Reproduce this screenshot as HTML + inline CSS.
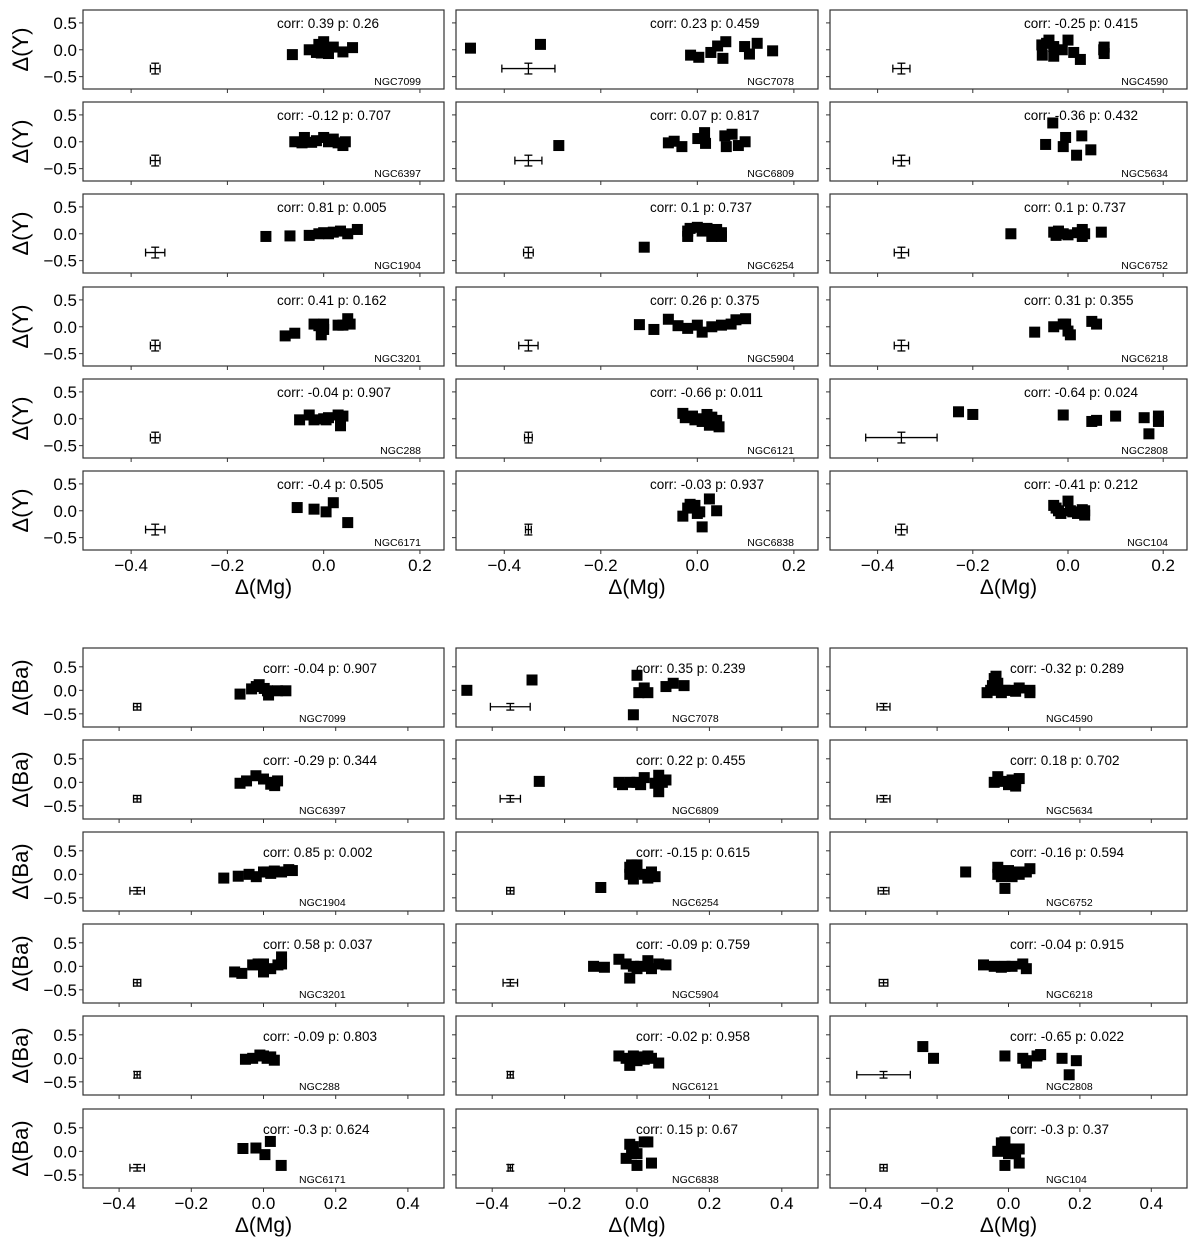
<!DOCTYPE html>
<html><head><meta charset="utf-8">
<style>
html,body{margin:0;padding:0;background:#fff;}
svg{display:block;font-family:"Liberation Sans","DejaVu Sans",sans-serif;}
</style></head>
<body>
<svg id="fig" width="1200" height="1249" viewBox="0 0 1200 1249" xmlns="http://www.w3.org/2000/svg"></svg>
<script>
// ---------- data ----------
const topNames = ["NGC7099","NGC6397","NGC1904","NGC3201","NGC288","NGC6171",
 "NGC7078","NGC6809","NGC6254","NGC5904","NGC6121","NGC6838",
 "NGC4590","NGC5634","NGC6752","NGC6218","NGC2808","NGC104"];
const topStats = ["corr: 0.39 p: 0.26","corr: -0.12 p: 0.707","corr: 0.81 p: 0.005","corr: 0.41 p: 0.162","corr: -0.04 p: 0.907","corr: -0.4 p: 0.505",
 "corr: 0.23 p: 0.459","corr: 0.07 p: 0.817","corr: 0.1 p: 0.737","corr: 0.26 p: 0.375","corr: -0.66 p: 0.011","corr: -0.03 p: 0.937",
 "corr: -0.25 p: 0.415","corr: -0.36 p: 0.432","corr: 0.1 p: 0.737","corr: 0.31 p: 0.355","corr: -0.64 p: 0.024","corr: -0.41 p: 0.212"];
const topXerr = [0.01,0.01,0.02,0.01,0.01,0.02, 0.055,0.028,0.01,0.02,0.008,0.006, 0.018,0.017,0.015,0.015,0.075,0.012];
const topMg = [
 [-0.065,-0.03,-0.015,-0.01,0.0,0.005,0.01,0.02,0.04,0.06,-0.005],
 [-0.06,-0.045,-0.04,-0.025,-0.015,0.0,0.01,0.02,0.03,0.04,0.045],
 [-0.12,-0.07,-0.03,-0.01,0.0,0.01,0.02,0.035,0.05,0.07],
 [-0.08,-0.06,-0.02,-0.01,-0.005,0.0,0.03,0.04,0.05,0.055,0.0],
 [-0.05,-0.03,-0.02,0.0,0.005,0.01,0.03,0.035,0.04],
 [-0.055,-0.02,0.005,0.02,0.05],
 [-0.47,-0.325,-0.014,0.003,0.028,0.042,0.059,0.053,0.098,0.108,0.124,0.156],
 [-0.287,-0.06,-0.048,-0.032,0.001,0.015,0.017,0.057,0.072,0.06,0.085,0.099],
 [-0.11,-0.02,-0.02,-0.015,0.0,0.01,0.02,0.03,0.04,0.05,0.05],
 [-0.12,-0.09,-0.06,-0.04,-0.02,0.0,0.01,0.03,0.05,0.07,0.08,0.1],
 [-0.03,-0.025,-0.01,-0.005,0.0,0.01,0.02,0.025,0.04,0.045,0.03],
 [-0.03,-0.02,-0.015,-0.01,0.0,0.005,0.01,0.025,0.04,-0.005],
 [-0.055,-0.054,-0.04,-0.03,-0.03,-0.012,0.0,0.012,0.026,0.076,0.076,0.075,-0.045],
 [-0.032,-0.047,-0.01,-0.005,0.029,0.018,0.048],
 [-0.12,-0.03,-0.025,-0.02,-0.01,0.0,0.02,0.03,0.03,0.035,0.07],
 [-0.07,-0.03,-0.01,-0.005,0.0,0.005,0.05,0.06],
 [-0.23,-0.2,-0.01,0.05,0.06,0.1,0.16,0.17,0.19,0.19],
 [-0.03,-0.02,-0.015,0.0,0.005,0.01,0.02,0.03,0.035,0.035,-0.025]];
const topY = [
 [-0.09,0.0,-0.05,0.1,0.15,0.02,-0.07,0.05,-0.04,0.04,-0.06],
 [0.0,-0.02,0.08,-0.01,0.02,0.08,0.0,0.05,-0.02,-0.07,0.0],
 [-0.05,-0.04,-0.03,0.0,0.02,0.0,0.03,0.05,0.0,0.08],
 [-0.17,-0.12,0.05,0.02,-0.15,0.05,0.03,0.03,0.15,0.05,-0.05],
 [-0.02,0.07,-0.02,0.0,-0.02,0.02,0.07,-0.13,0.05],
 [0.06,0.03,-0.02,0.15,-0.22],
 [0.03,0.1,-0.1,-0.14,-0.05,0.07,0.15,-0.16,0.06,-0.08,0.12,-0.02],
 [-0.07,-0.02,0.01,-0.09,0.06,0.17,-0.03,0.11,0.14,-0.09,-0.07,0.0],
 [-0.25,0.05,-0.05,0.1,0.12,0.05,0.1,-0.05,0.08,-0.05,0.02],
 [0.04,-0.05,0.14,0.02,-0.03,0.03,-0.1,0.0,0.03,0.05,0.13,0.15],
 [0.1,0.02,0.05,-0.02,0.0,-0.05,0.08,-0.12,-0.03,-0.15,0.03],
 [-0.1,0.05,0.12,0.08,-0.05,-0.02,-0.3,0.22,0.0,0.1],
 [0.09,-0.1,0.18,0.06,-0.12,0.0,0.18,-0.05,-0.18,0.05,-0.07,0.0,0.12],
 [0.35,-0.05,-0.09,0.08,0.11,-0.25,-0.15],
 [0.0,0.03,-0.03,0.05,0.0,-0.02,0.02,-0.05,0.08,0.0,0.03],
 [-0.1,0.0,0.05,0.05,-0.08,-0.15,0.1,0.05],
 [0.13,0.08,0.07,-0.05,-0.03,0.05,0.02,-0.28,0.05,-0.05],
 [0.1,0.0,-0.05,0.18,0.0,-0.02,-0.05,0.02,-0.08,0.0,0.05]];

const botStats = ["corr: -0.04 p: 0.907","corr: -0.29 p: 0.344","corr: 0.85 p: 0.002","corr: 0.58 p: 0.037","corr: -0.09 p: 0.803","corr: -0.3 p: 0.624",
 "corr: 0.35 p: 0.239","corr: 0.22 p: 0.455","corr: -0.15 p: 0.615","corr: -0.09 p: 0.759","corr: -0.02 p: 0.958","corr: 0.15 p: 0.67",
 "corr: -0.32 p: 0.289","corr: 0.18 p: 0.702","corr: -0.16 p: 0.594","corr: -0.04 p: 0.915","corr: -0.65 p: 0.022","corr: -0.3 p: 0.37"];
const botXerr = [0.01,0.01,0.02,0.01,0.008,0.02, 0.055,0.028,0.01,0.02,0.008,0.006, 0.018,0.018,0.015,0.012,0.075,0.01];
const botMg = [
 [-0.065,-0.033,-0.012,0.002,0.011,0.014,0.039,0.062,-0.02],
 [-0.065,-0.047,-0.021,0.0,0.02,0.031,0.039,0.028],
 [-0.11,-0.07,-0.04,-0.02,0.0,0.02,0.03,0.05,0.07,0.08,0.01],
 [-0.08,-0.06,-0.03,-0.015,0.0,0.0,0.02,0.04,0.05,0.05],
 [-0.05,-0.03,-0.01,0.0,0.02,0.03,0.01],
 [-0.057,-0.021,0.004,0.019,0.049],
 [-0.47,-0.29,-0.01,0.0,0.005,0.02,0.03,0.08,0.1,0.13],
 [-0.27,-0.05,-0.04,-0.02,0.0,0.01,0.02,0.05,0.06,0.06,0.08,0.07],
 [-0.1,-0.02,-0.02,-0.015,-0.01,0.0,0.02,0.03,0.04,0.05,0.0],
 [-0.12,-0.09,-0.05,-0.03,-0.02,0.0,0.01,0.03,0.04,0.06,0.08,-0.01],
 [-0.05,-0.03,-0.02,-0.01,0.0,0.01,0.03,0.04,0.06,0.02],
 [-0.03,-0.02,-0.01,0.0,0.0,0.02,0.03,0.04,-0.015],
 [-0.06,-0.05,-0.04,-0.035,-0.03,-0.02,-0.01,0.0,0.02,0.03,0.06,0.06,-0.045],
 [-0.04,-0.03,-0.01,0.0,0.01,0.02,0.03,0.02],
 [-0.12,-0.03,-0.03,-0.02,0.0,0.01,0.02,0.03,0.05,0.06,0.0,-0.01],
 [-0.07,-0.04,-0.02,-0.01,0.04,0.05,0.01],
 [-0.24,-0.21,-0.01,0.04,0.05,0.08,0.09,0.15,0.17,0.19,0.05],
 [-0.03,-0.02,-0.01,-0.01,0.0,0.01,0.02,0.03,0.03,0.0]];
const botBa = [
 [-0.08,0.03,0.12,0.04,-0.01,-0.1,-0.01,-0.01,0.08],
 [-0.02,0.03,0.14,0.07,-0.04,-0.07,0.03,0.0],
 [-0.08,-0.04,0.0,-0.05,0.05,0.02,0.07,0.05,0.1,0.08,0.05],
 [-0.12,-0.15,0.03,0.05,-0.12,0.05,-0.05,0.03,0.05,0.2],
 [-0.02,0.0,0.07,0.05,0.03,-0.04,0.0],
 [0.06,0.07,-0.07,0.21,-0.3],
 [0.0,0.22,-0.52,0.32,-0.05,0.05,-0.05,0.08,0.15,0.1],
 [0.02,0.0,-0.05,0.0,0.0,-0.05,0.1,-0.02,0.15,-0.2,0.05,0.0],
 [-0.28,0.15,0.0,0.2,-0.1,0.05,0.0,-0.08,0.05,-0.05,0.2],
 [0.0,-0.02,0.15,0.05,-0.25,-0.05,0.0,0.12,-0.05,0.05,0.03,0.0],
 [0.05,0.0,-0.15,0.05,-0.05,0.03,0.05,0.0,-0.1,-0.02],
 [-0.15,0.15,0.1,-0.05,-0.3,0.2,0.2,-0.25,-0.05],
 [-0.05,0.0,0.25,0.3,0.15,-0.05,0.0,0.0,-0.02,0.05,0.0,-0.05,0.1],
 [0.0,0.12,0.02,-0.05,0.05,0.0,0.08,-0.08],
 [0.05,0.15,0.0,-0.05,0.0,-0.05,0.05,0.0,0.05,0.12,0.08,-0.3],
 [0.03,0.0,-0.02,0.0,0.05,-0.05,0.0],
 [0.25,0.0,0.05,0.0,-0.1,0.05,0.08,0.0,-0.35,-0.05,-0.05],
 [0.0,0.18,0.2,-0.3,0.05,0.0,-0.05,-0.25,0.05,-0.05]];
const topXTicks = [-0.4,-0.2,0.0,0.2];
const topXLabels = ["\u22120.4","\u22120.2","0.0","0.2"];
const botXTicks = [-0.4,-0.2,0.0,0.2,0.4];
const botXLabels = ["\u22120.4","\u22120.2","0.0","0.2","0.4"];
const yTicks = [0.5,0.0,-0.5];
const yLabels = ["0.5","0.0","\u22120.5"];
const errPoint = [-0.35,-0.35];

// ---------- drawing ----------
const NS = "http://www.w3.org/2000/svg";
const svg = document.getElementById("fig");
function mk(tag, attrs, parent){const e=document.createElementNS(NS,tag);for(const k in attrs)e.setAttribute(k,attrs[k]);(parent||svg).appendChild(e);return e;}

const colX = [83,456,830];
const colW = [361,362,357];
const topRows = [10,102,194,287,379,471];
const botRows = [648,740,832,924,1016,1109];
const PH = 79;
const MS = 11;

function drawBlock(rows, xlim, ylim, xTicks, xLabels, names, stats, xs, ys, xerrs, yerr, ylab, corrDx, corrDy, nameRight, nameDx, nameDy, tickLabY, xlabY, blockName){
  for(let c=0;c<3;c++){
    for(let r=0;r<6;r++){
      const i=c*6+r;
      const x0=colX[c], w=colW[c], y0=rows[r];
      const sx=v=>x0+(v-xlim[0])/(xlim[1]-xlim[0])*w;
      const sy=v=>y0+(ylim[1]-v)/(ylim[1]-ylim[0])*PH;
      const g=mk("g",{});
      
      
      const fr=mk("rect",{x:x0,y:y0,width:w,height:PH,fill:"#fff",stroke:"#333","stroke-width":1.2},g);
      
      
      xTicks.forEach((t,k)=>{
        mk("line",{x1:sx(t),x2:sx(t),y1:y0+PH,y2:y0+PH+4,stroke:"#333","stroke-width":1},g);
        if(r===5){
          const tl=mk("text",{x:sx(t),y:tickLabY,"font-size":17,"text-anchor":"middle",fill:"#000"},g);
          tl.textContent=xLabels[k];
          
          
        }
      });
      yTicks.forEach((t,k)=>{
        mk("line",{x1:x0-4,x2:x0,y1:sy(t),y2:sy(t),stroke:"#333","stroke-width":1},g);
        if(c===0){
          const tl=mk("text",{x:x0-6,y:sy(t)+6,"font-size":17,"text-anchor":"end",fill:"#000"},g);
          tl.textContent=yLabels[k];
          
          
        }
      });
      if(c===0){
        const cy=y0+PH/2;
        const yl=mk("text",{x:0,y:0,"font-size":22,"text-anchor":"middle",fill:"#000",transform:`translate(28,${cy}) rotate(-90)`},g);
        yl.textContent=ylab;
        
        
      }
      const ex=sx(errPoint[0]), ey=sy(errPoint[1]);
      const exl=sx(errPoint[0]-xerrs[i]), exr=sx(errPoint[0]+xerrs[i]);
      const eyt=sy(errPoint[1]+yerr), eyb=sy(errPoint[1]-yerr);
      const eg=mk("g",{stroke:"#000","stroke-width":1.3},g);
      
      
      mk("line",{x1:exl,x2:exr,y1:ey,y2:ey},eg);
      mk("line",{x1:exl,x2:exl,y1:ey-4,y2:ey+4},eg);
      mk("line",{x1:exr,x2:exr,y1:ey-4,y2:ey+4},eg);
      mk("line",{x1:ex,x2:ex,y1:eyt,y2:eyb},eg);
      mk("line",{x1:ex-4,x2:ex+4,y1:eyt,y2:eyt},eg);
      mk("line",{x1:ex-4,x2:ex+4,y1:eyb,y2:eyb},eg);
      xs[i].forEach((v,k)=>{
        const m=mk("rect",{x:sx(v)-MS/2,y:sy(ys[i][k])-MS/2,width:MS,height:MS,fill:"#000"},g);
        
        
      });
      const ct=mk("text",{x:x0+corrDx,y:y0+corrDy,"font-size":13.5,fill:"#000"},g);
      ct.textContent=stats[i];
      
      
      const nt=mk("text",{x:x0+nameDx,y:y0+nameDy,"font-size":10.5,fill:"#000","text-anchor":nameRight?"end":"start"},g);
      nt.textContent=names[i];
      
      
    }
    const xl=mk("text",{x:colX[c]+colW[c]/2,y:xlabY,"font-size":21,"text-anchor":"middle",fill:"#000"});
    xl.textContent="\u0394(Mg)";
    
    
  }
}

drawBlock(topRows,[-0.5,0.25],[-0.73,0.74],topXTicks,topXLabels,topNames,topStats,topMg,topY,topXerr,0.1,"\u0394(Y)",194,18,true,338,75,571,594,"y-mg");
drawBlock(botRows,[-0.5,0.5],[-0.78,0.9],botXTicks,botXLabels,topNames,botStats,botMg,botBa,botXerr,0.07,"\u0394(Ba)",180,25,false,216,74,1209,1232,"ba-mg");
</script>
</body></html>
